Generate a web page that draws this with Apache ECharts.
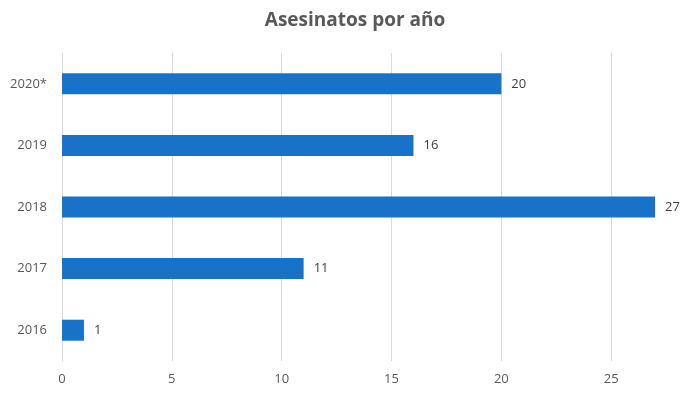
<!DOCTYPE html>
<html><head><meta charset="utf-8">
<script src="https://cdn.jsdelivr.net/npm/echarts@6/dist/echarts.min.js"></script>
<style>html,body{margin:0;padding:0;background:#fff;overflow:hidden;width:700px;height:394px}#c{width:724px;height:394px}</style>
</head><body><div id="c"></div>
<script>
const categories = ['2016', '2017', '2018', '2019', '2020*'];
const values = [1, 11, 27, 16, 20];
const xTicks = [0, 5, 10, 15, 20, 25];

const chart = echarts.init(document.getElementById('c'));
chart.setOption({
  animation: false,
  backgroundColor: '#fff',
  title: {
    text: 'Asesinatos por año', left: 350, textAlign: 'center', top: 6,
    textStyle: { fontFamily: 'Open Sans', fontWeight: 'bold', fontSize: 19, color: '#595959' }
  },
  grid: { left: 62, right: 0, top: 53, bottom: 33, containLabel: false },
  xAxis: {
    type: 'value', min: 0, max: 30, interval: 5,
    axisLine: { show: false }, axisTick: { show: false },
    splitLine: { lineStyle: { color: '#d9d9d9', width: 1 } },
    axisLabel: { color: '#595959', fontFamily: 'Open Sans', fontSize: 13, margin: 12,
      formatter: v => xTicks.includes(v) ? String(v) : '' }
  },
  yAxis: {
    type: 'category', data: categories,
    axisLine: { show: true, lineStyle: { color: '#d9d9d9' } }, axisTick: { show: false },
    axisLabel: { color: '#595959', fontFamily: 'Open Sans', fontSize: 13, margin: 15 }
  },
  series: [{
    type: 'bar', data: values, barWidth: 21,
    itemStyle: { color: '#1873C8' },
    label: { show: true, position: 'right', distance: 10, color: '#404040', fontFamily: 'Open Sans', fontSize: 13 }
  }]
});
</script></body></html>
